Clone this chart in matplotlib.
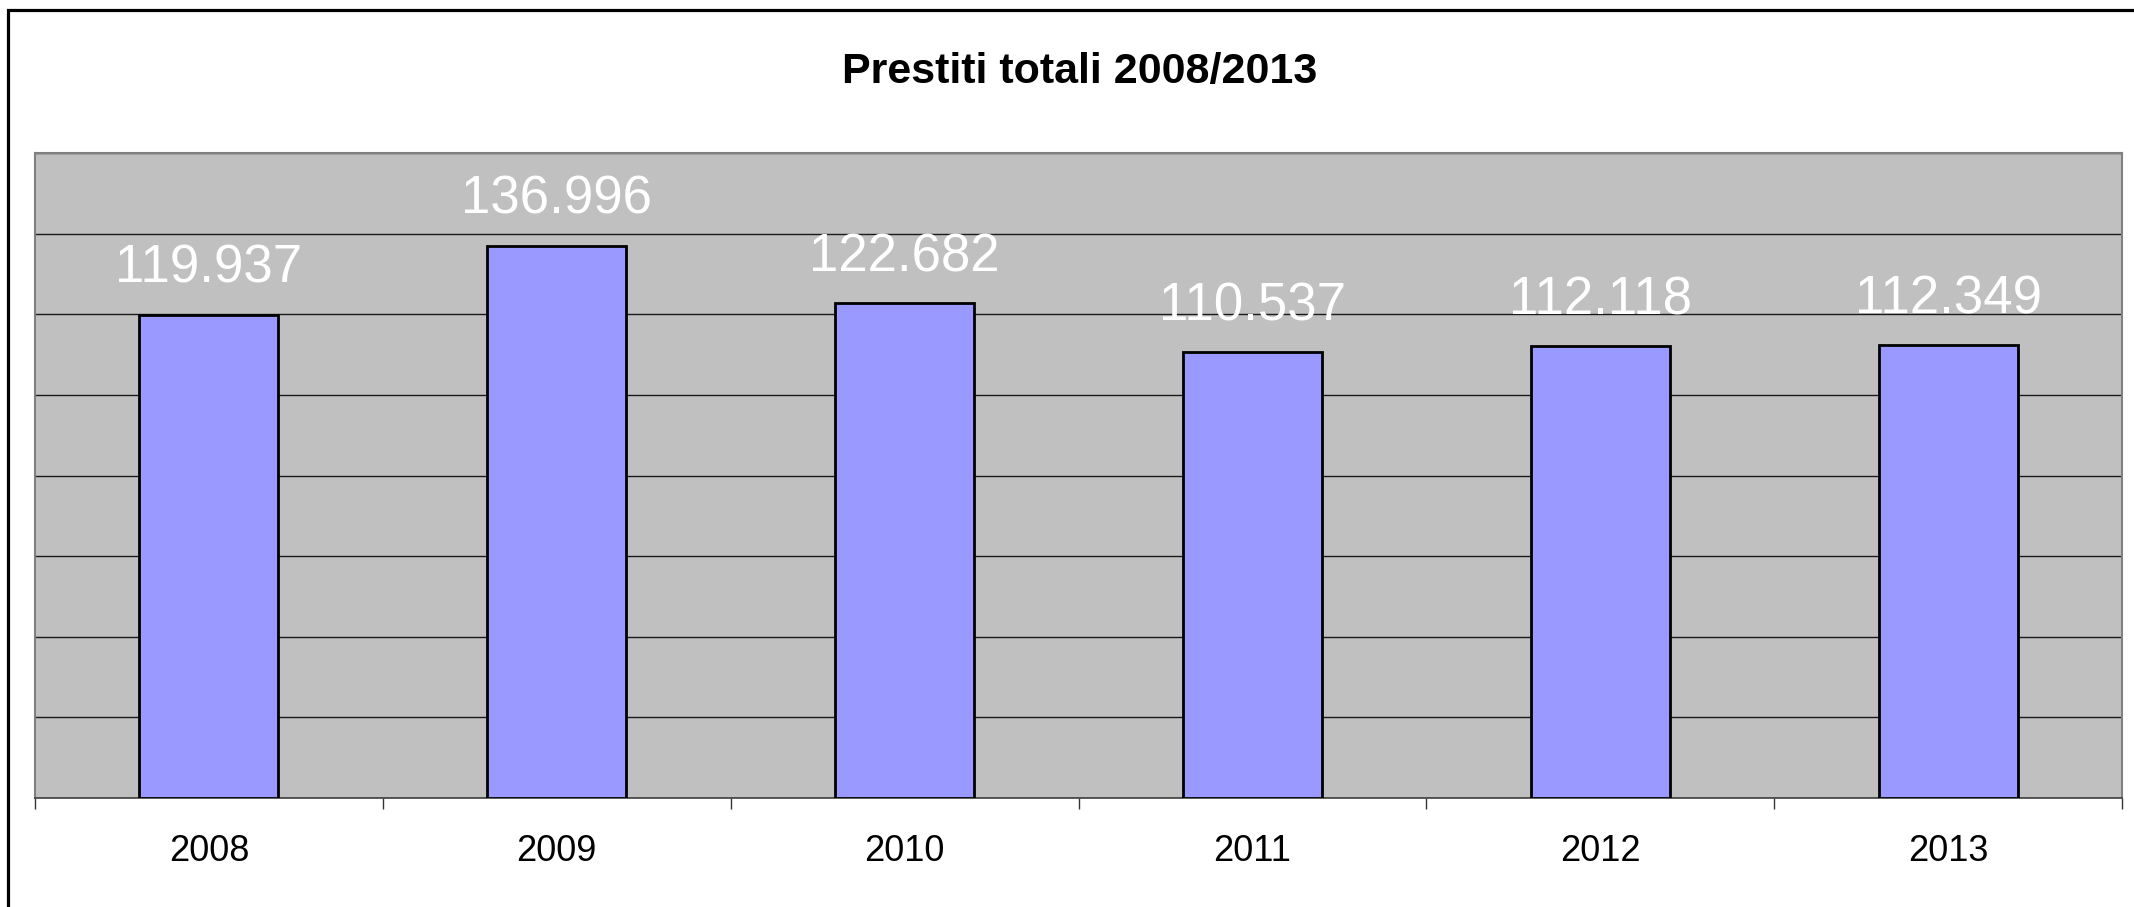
import matplotlib.pyplot as plt
from matplotlib.patches import Rectangle
import numpy as np

plt.rcParams['font.family'] = ['Liberation Sans', 'DejaVu Sans']

years = ['2008', '2009', '2010', '2011', '2012', '2013']
prestiti = [119937, 136996, 122682, 110537, 112118, 112349]
title = 'Prestiti totali 2008/2013'


def it_format(v):
    # Italian thousands separator
    return f'{v:,}'.replace(',', '.')


W, H = 2134, 907
fig = plt.figure(figsize=(W / 100, H / 100), dpi=100)
ax = fig.add_axes([35 / W, (H - 798) / H, 2087 / W, 645 / H])

x = np.arange(len(years))
ax.set_facecolor('#c0c0c0')
ax.bar(x, prestiti, width=0.4, color='#9999ff', edgecolor='black',
       linewidth=2.0, zorder=3)

ax.set_xlim(-0.5, len(years) - 0.5)
ax.set_ylim(0, 160000)
ax.set_yticks(np.arange(0, 160001, 20000))
ax.yaxis.grid(True, color='#1a1a1a', linewidth=1.0, zorder=1)
ax.tick_params(axis='y', left=False, labelleft=False)

# tick marks between categories, labels centred under the bars
ax.set_xticks(np.arange(-0.5, len(years)), minor=False)
ax.set_xticks(x, minor=True)
ax.set_xticklabels([''] * (len(years) + 1))
ax.set_xticklabels(years, minor=True, fontsize=26)
ax.tick_params(axis='x', which='major', length=8, width=1, color='#333333', direction='out')
ax.tick_params(axis='x', which='minor', length=0, pad=26)

for side in ['top', 'left', 'right']:
    ax.spines[side].set_color('#808080')
    ax.spines[side].set_linewidth(1.5)
ax.spines['bottom'].set_color('#404040')
ax.spines['bottom'].set_linewidth(1.2)

for xi, v in zip(x, prestiti):
    ax.annotate(it_format(v), (xi, v), xytext=(0, 23), textcoords='offset points',
                ha='center', va='baseline', color='white', fontsize=38, zorder=4)

fig.text(1080 / W, 1 - 83 / H, title, ha='center', va='baseline',
         fontsize=31, fontweight='bold')

# outer chart frame (only top and left edges fall inside the picture)
fig.patches.append(Rectangle((8 / W, -0.1), 1.2, 1.1 - 10 / H, transform=fig.transFigure,
                             fill=False, edgecolor='black', linewidth=2.3))

fig.savefig('out.png', dpi=100)
